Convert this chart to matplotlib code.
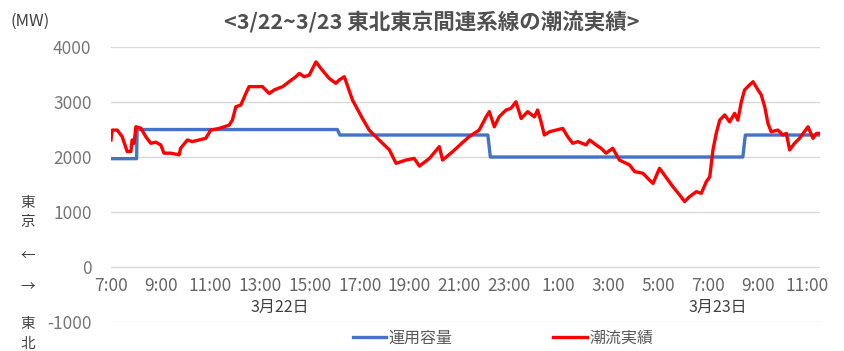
import matplotlib.pyplot as plt

plt.rcParams['font.family'] = ['Noto Sans CJK JP', 'DejaVu Sans']
plt.rcParams['axes.unicode_minus'] = False

# 3/22 7:00 からの経過時間 (h)
cap_hours = [0.0, 1.03, 1.05, 9.1, 9.2, 15.15, 15.25, 25.4, 25.5, 28.5]
cap_mw = [1970, 1970, 2500, 2500, 2400, 2400, 2000, 2000, 2400, 2400]

flow_hours = [0.0, 0.05, 0.25, 0.45, 0.65, 0.8, 0.85, 0.93, 1.0, 1.2, 1.4, 1.6, 1.8,
              2.0, 2.13, 2.4, 2.74, 2.8, 3.07, 3.27, 3.54, 3.81, 4.01, 4.35, 4.75,
              4.88, 5.02, 5.22, 5.42, 5.55, 6.09, 6.36, 6.56, 6.9, 7.16, 7.43, 7.57,
              7.77, 7.97, 8.24, 8.44, 8.77, 9.04, 9.17, 9.38, 9.71, 10.11, 10.38,
              10.78, 11.19, 11.46, 11.86, 12.19, 12.4, 12.8, 13.2, 13.33, 13.74,
              14.1, 14.4, 14.8, 15.08, 15.21, 15.41, 15.6, 15.88, 16.08, 16.28,
              16.49, 16.75, 17.02, 17.15, 17.29, 17.42, 17.63, 17.9, 18.16, 18.36,
              18.56, 18.77, 19.1, 19.24, 19.5, 19.7, 19.9, 20.17, 20.44, 20.85,
              21.05, 21.38, 21.65, 21.79, 22.05, 22.25, 22.59, 22.86, 23.06, 23.26,
              23.53, 23.73, 23.93, 24.07, 24.2, 24.33, 24.47, 24.67, 24.87, 25.07,
              25.2, 25.34, 25.47, 25.67, 25.81, 26.01, 26.14, 26.28, 26.41, 26.54,
              26.81, 27.01, 27.15, 27.28, 27.48, 27.68, 28.02, 28.22, 28.36, 28.49]
flow_mw = [2310, 2490, 2490, 2370, 2100, 2100, 2310, 2250, 2550, 2525, 2370, 2250, 2270,
           2220, 2070, 2070, 2040, 2160, 2310, 2280, 2310, 2340, 2490, 2520, 2580,
           2670, 2915, 2945, 3155, 3280, 3280, 3155, 3220, 3280, 3370, 3460, 3520,
           3460, 3490, 3730, 3610, 3430, 3340, 3400, 3460, 3035, 2700, 2490,
           2310, 2130, 1885, 1945, 1975, 1835, 1975, 2190, 1945, 2100,
           2250, 2370, 2490, 2730, 2825, 2550, 2730, 2855, 2885, 3005,
           2700, 2825, 2730, 2855, 2640, 2400, 2460, 2490, 2520, 2370,
           2250, 2280, 2220, 2310, 2220, 2160, 2070, 2160, 1945, 1855,
           1735, 1705, 1580, 1520, 1795, 1670, 1460, 1310, 1190, 1280,
           1370, 1340, 1550, 1640, 2130, 2430, 2670, 2765, 2640, 2795,
           2670, 3005, 3220, 3310, 3370, 3220, 3130, 2915, 2610, 2460,
           2490, 2400, 2430, 2130, 2250, 2340, 2550, 2340, 2430, 2430]

tick_hours = list(range(0, 29, 2))
tick_labels = ['7:00', '9:00', '11:00', '13:00', '15:00', '17:00', '19:00', '21:00',
               '23:00', '1:00', '3:00', '5:00', '7:00', '9:00', '11:00']
day_labels = ['3月22日', '3月23日']
day_pos = [6.8, 24.4]

fig = plt.figure(figsize=(8.44, 3.51), dpi=100)
ax = fig.add_axes([0.1315, 0.0826, 0.84, 0.7834])

ax.plot(cap_hours, cap_mw, color='#4472C4', lw=2.4, label='運用容量')
ax.plot(flow_hours, flow_mw, color='#FF0000', lw=2.4, label='潮流実績')

ax.set_xlim(0, 28.5)
ax.set_ylim(-1000, 4000)
ax.set_yticks([-1000, 0, 1000, 2000, 3000, 4000])
ax.yaxis.grid(True, color='#D9D9D9', lw=1)
ax.set_axisbelow(True)
for s in ax.spines.values():
    s.set_visible(False)
ax.spines['bottom'].set_position(('data', 0))
ax.set_xticks(tick_hours)
ax.set_xticklabels(tick_labels)
ax.tick_params(axis='x', length=0, pad=7, labelsize=12.5, labelcolor='#666666')
ax.tick_params(axis='y', length=0, pad=14, labelsize=12.5, labelcolor='#777777')

# 日付ラベル
for d, p in zip(day_labels, day_pos):
    ax.text(p, -740, d, ha='center', va='center', fontsize=11.5, color='#404040')

fig.text(0.511, 0.935, '<3/22~3/23 東北東京間連系線の潮流実績>', ha='center', va='center',
         fontsize=15.5, fontweight='bold', color='#505050')
fig.text(0.012, 0.94, '(MW)', ha='left', va='center', fontsize=12, color='#404040')

# 左側の方向表示
for ch, yp in zip(['東', '京', '←', '→', '東', '北'], [203, 222, 256, 287, 324, 344]):
    fig.text(28 / 844, 1 - yp / 351, ch, ha='center', va='center', fontsize=10.5, color='#404040')

fig.legend(loc='center', bbox_to_anchor=(0.596, 0.037), ncol=2, frameon=False,
           fontsize=11.5, handlelength=2.1, handletextpad=0.15, columnspacing=6.3,
           labelcolor='#595959')

fig.savefig('out.png', dpi=100)
